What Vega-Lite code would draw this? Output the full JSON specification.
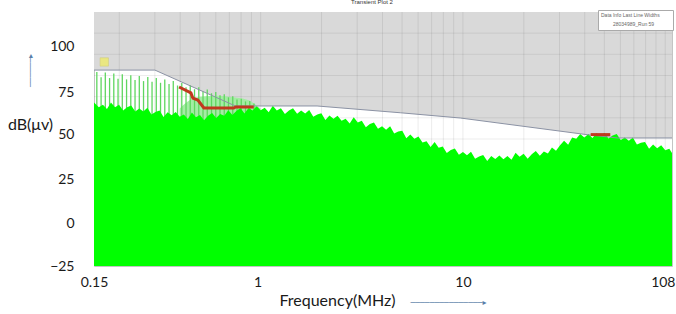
{
  "$schema": "https://vega.github.io/schema/vega-lite/v6.json",
  "autosize": "none",
  "width": 578,
  "height": 254,
  "padding": {"left": 94, "top": 12, "right": 4, "bottom": 48},
  "background": "white",
  "config": {"view": {"stroke": "#c4c4c4", "strokeWidth": 1}, "font": "Lato"},
  "title": {"text": "Transient Plot 2", "fontSize": 6, "fontWeight": "normal", "color": "#333", "offset": 5, "dx": -11, "frame": "group", "font": "Liberation Sans"},
  "datasets": {
    "limit": [
      {"f": 0.15, "v": 90.7}, {"f": 0.3, "v": 90.7}, {"f": 0.75, "v": 69.5}, {"f": 1.9, "v": 69.5},
      {"f": 4.9, "v": 65.5}, {"f": 9.7, "v": 62.4}, {"f": 42, "v": 52.4}, {"f": 58, "v": 50.6}, {"f": 108, "v": 50.6}
    ],
    "vgrid": [
      {"f": 0.2}, {"f": 0.3}, {"f": 0.4}, {"f": 0.5}, {"f": 0.6}, {"f": 0.7}, {"f": 0.8}, {"f": 0.9}, {"f": 1},
      {"f": 2}, {"f": 3}, {"f": 4}, {"f": 5}, {"f": 6}, {"f": 7}, {"f": 8}, {"f": 9}, {"f": 10},
      {"f": 20}, {"f": 30}, {"f": 40}, {"f": 50}, {"f": 60}, {"f": 70}, {"f": 80}, {"f": 90}, {"f": 100}
    ],
    "hgrid": [
      {"v": 112.5}, {"v": 100}, {"v": 87.5}, {"v": 75}, {"v": 62.5}, {"v": 50}, {"v": 37.5}, {"v": 25}, {"v": 12.5}, {"v": 0}, {"v": -12.5}
    ],
    "haze": [
      {"f": 0.398, "v": 68}, {"f": 0.447, "v": 73}, {"f": 0.5, "v": 75}, {"f": 0.6, "v": 75.5}, {"f": 0.7, "v": 75},
      {"f": 0.8, "v": 74}, {"f": 0.9, "v": 72}, {"f": 0.95, "v": 70}, {"f": 1.0, "v": 68}
    ],
    "spikes": [
      {"f": 0.1549, "v": 89.5}, {"f": 0.1626, "v": 86.5}, {"f": 0.1706, "v": 89.2}, {"f": 0.1791, "v": 86},
      {"f": 0.1879, "v": 88.7}, {"f": 0.1972, "v": 85.6}, {"f": 0.207, "v": 88.2}, {"f": 0.2173, "v": 85.2},
      {"f": 0.228, "v": 87.6}, {"f": 0.2393, "v": 84.8}, {"f": 0.2512, "v": 87.2}, {"f": 0.2636, "v": 84.2},
      {"f": 0.2767, "v": 86.6}, {"f": 0.2904, "v": 83.8}, {"f": 0.3048, "v": 86}, {"f": 0.3199, "v": 83.2},
      {"f": 0.3357, "v": 85.2}, {"f": 0.3524, "v": 82.5}, {"f": 0.3698, "v": 84.2}, {"f": 0.3882, "v": 81.6},
      {"f": 0.4074, "v": 83}, {"f": 0.4276, "v": 80.5}, {"f": 0.4487, "v": 81.8}, {"f": 0.471, "v": 79.4},
      {"f": 0.4943, "v": 80.6}, {"f": 0.5188, "v": 78.2}, {"f": 0.5445, "v": 79.2}, {"f": 0.5715, "v": 77},
      {"f": 0.5998, "v": 77.8}, {"f": 0.6295, "v": 75.8}, {"f": 0.6607, "v": 76.5}, {"f": 0.6934, "v": 74.6},
      {"f": 0.7278, "v": 75.2}, {"f": 0.7638, "v": 73.4}, {"f": 0.8017, "v": 73.8}, {"f": 0.8414, "v": 72.2},
      {"f": 0.8831, "v": 72.4}, {"f": 0.9268, "v": 71}
    ],
    "spectrum": [
      {"f": 0.15, "v": 71.5}, {"f": 0.1585, "v": 68.8}, {"f": 0.166, "v": 70.3}, {"f": 0.1738, "v": 67.7},
      {"f": 0.182, "v": 71.6}, {"f": 0.1905, "v": 68.8}, {"f": 0.1995, "v": 70.2}, {"f": 0.2089, "v": 66.8},
      {"f": 0.2188, "v": 68.7}, {"f": 0.2291, "v": 69.8}, {"f": 0.2399, "v": 66.3}, {"f": 0.2512, "v": 68.0},
      {"f": 0.263, "v": 66.2}, {"f": 0.2754, "v": 68.4}, {"f": 0.2884, "v": 64.4}, {"f": 0.302, "v": 65.9},
      {"f": 0.3162, "v": 66.8}, {"f": 0.3311, "v": 63.0}, {"f": 0.3467, "v": 65.8}, {"f": 0.3631, "v": 64.0},
      {"f": 0.3802, "v": 65.9}, {"f": 0.3981, "v": 63.1}, {"f": 0.4169, "v": 64.5}, {"f": 0.4365, "v": 61.8},
      {"f": 0.4571, "v": 65.6}, {"f": 0.4786, "v": 62.8}, {"f": 0.5012, "v": 64.1}, {"f": 0.5248, "v": 61.1},
      {"f": 0.5495, "v": 63.7}, {"f": 0.5754, "v": 65.3}, {"f": 0.6026, "v": 62.4}, {"f": 0.631, "v": 64.7},
      {"f": 0.6607, "v": 63.7}, {"f": 0.6918, "v": 67.0}, {"f": 0.7244, "v": 64.1}, {"f": 0.7586, "v": 66.5},
      {"f": 0.7943, "v": 68.3}, {"f": 0.8318, "v": 65.0}, {"f": 0.871, "v": 68.3}, {"f": 0.912, "v": 66.9},
      {"f": 0.955, "v": 69.3}, {"f": 1, "v": 67.0},
      {"f": 1.047, "v": 68.4}, {"f": 1.096, "v": 65.8}, {"f": 1.148, "v": 69.6}, {"f": 1.202, "v": 66.8},
      {"f": 1.259, "v": 68.1}, {"f": 1.318, "v": 64.7}, {"f": 1.38, "v": 66.9}, {"f": 1.445, "v": 68.2},
      {"f": 1.514, "v": 64.9}, {"f": 1.585, "v": 66.8}, {"f": 1.66, "v": 65.0}, {"f": 1.738, "v": 67.1},
      {"f": 1.82, "v": 63.1}, {"f": 1.905, "v": 64.5}, {"f": 1.995, "v": 65.2}, {"f": 2.089, "v": 61.2},
      {"f": 2.188, "v": 63.9}, {"f": 2.291, "v": 61.9}, {"f": 2.399, "v": 63.7}, {"f": 2.512, "v": 60.8},
      {"f": 2.63, "v": 62.0}, {"f": 2.754, "v": 59.2}, {"f": 2.884, "v": 62.8}, {"f": 3.02, "v": 59.8},
      {"f": 3.162, "v": 60.8}, {"f": 3.311, "v": 57.0}, {"f": 3.467, "v": 58.8}, {"f": 3.631, "v": 59.7},
      {"f": 3.802, "v": 56.0}, {"f": 3.981, "v": 57.5}, {"f": 4.169, "v": 55.5}, {"f": 4.365, "v": 57.5},
      {"f": 4.571, "v": 53.3}, {"f": 4.786, "v": 54.5}, {"f": 5.012, "v": 54.9}, {"f": 5.248, "v": 50.5},
      {"f": 5.495, "v": 52.7}, {"f": 5.754, "v": 50.2}, {"f": 6.026, "v": 51.5}, {"f": 6.31, "v": 48.0},
      {"f": 6.607, "v": 48.7}, {"f": 6.918, "v": 45.3}, {"f": 7.244, "v": 48.3}, {"f": 7.586, "v": 44.8},
      {"f": 7.943, "v": 45.5}, {"f": 8.318, "v": 41.7}, {"f": 8.71, "v": 43.5}, {"f": 9.12, "v": 44.4},
      {"f": 9.55, "v": 40.7}, {"f": 10, "v": 42.3},
      {"f": 10.47, "v": 40.4}, {"f": 10.96, "v": 42.5}, {"f": 11.48, "v": 38.3}, {"f": 12.02, "v": 39.6},
      {"f": 12.59, "v": 40.6}, {"f": 13.18, "v": 37.0}, {"f": 13.8, "v": 39.9}, {"f": 14.45, "v": 38.2},
      {"f": 15.14, "v": 40.3}, {"f": 15.85, "v": 38.0}, {"f": 16.6, "v": 39.9}, {"f": 17.38, "v": 37.7},
      {"f": 18.2, "v": 41.9}, {"f": 19.05, "v": 39.5}, {"f": 19.95, "v": 41.3}, {"f": 20.89, "v": 38.3},
      {"f": 21.88, "v": 41.0}, {"f": 22.91, "v": 42.9}, {"f": 23.99, "v": 40.1}, {"f": 25.12, "v": 42.6},
      {"f": 26.3, "v": 41.5}, {"f": 27.54, "v": 45.0}, {"f": 28.84, "v": 43.0}, {"f": 30.2, "v": 46.3},
      {"f": 31.62, "v": 48.9}, {"f": 33.11, "v": 46.6}, {"f": 34.67, "v": 50.9}, {"f": 36.31, "v": 50.2},
      {"f": 38.02, "v": 52.9}, {"f": 39.81, "v": 50.9}, {"f": 41.69, "v": 53.0}, {"f": 43.65, "v": 50.6},
      {"f": 45.71, "v": 53.4}, {"f": 47.86, "v": 52.0}, {"f": 50.12, "v": 53.5}, {"f": 52.48, "v": 50.3},
      {"f": 54.95, "v": 52.1}, {"f": 57.54, "v": 53.0}, {"f": 60.26, "v": 49.4}, {"f": 63.1, "v": 50.9},
      {"f": 66.07, "v": 48.9}, {"f": 69.18, "v": 50.9}, {"f": 72.44, "v": 46.7}, {"f": 75.86, "v": 47.8},
      {"f": 79.43, "v": 48.3}, {"f": 83.18, "v": 44.2}, {"f": 87.1, "v": 46.8}, {"f": 91.2, "v": 44.6},
      {"f": 95.5, "v": 46.3}, {"f": 100, "v": 43.3}, {"f": 104.7, "v": 44.3}, {"f": 108, "v": 41.7}
    ],
    "peaks": [
      {"f": 0.395, "v": 80.7, "s": 1}, {"f": 0.452, "v": 77.2, "s": 1}, {"f": 0.462, "v": 74.2, "s": 1},
      {"f": 0.489, "v": 73, "s": 1}, {"f": 0.524, "v": 68.3, "s": 1}, {"f": 0.736, "v": 68.3, "s": 1},
      {"f": 0.753, "v": 68.9, "s": 1}, {"f": 0.924, "v": 68.9, "s": 1},
      {"f": 42.8, "v": 52.6, "s": 2}, {"f": 53.5, "v": 52.6, "s": 2}
    ],
    "marker": [{"f": 0.1686, "v": 95.5}]
  },
  "resolve": {"axis": {"x": "independent", "y": "independent"}},
  "layer": [
    {
      "data": {"name": "limit"},
      "mark": {"type": "area", "color": "#d9d9d9", "clip": true},
      "encoding": {
        "x": {
          "field": "f", "type": "quantitative",
          "scale": {"type": "log", "domain": [0.15, 108], "nice": false},
          "axis": {
            "values": [0.15, 1, 10, 108], "format": "~g", "grid": false, "ticks": false, "domain": false,
            "labelFontSize": 14, "labelColor": "#1a1a1a", "labelPadding": 9, "labelFlush": false,
            "labelOverlap": false, "labelBound": false, "labelFont": "Lato",
            "labelAlign": {"expr": "datum.value == 108 ? 'right' : 'center'"},
            "labelOffset": {"expr": "datum.value == 108 ? 3 : datum.value == 1 ? -3 : 0"},
            "title": "Frequency(MHz)", "titleFont": "Lato", "titleFontSize": 16, "titleFontWeight": "normal",
            "titleColor": "#1a1a1a", "titleX": 243, "titleY": 34, "titleAlign": "center", "titleBaseline": "middle"
          }
        },
        "y": {
          "field": "v", "type": "quantitative",
          "scale": {"domain": [-25, 125], "nice": false, "zero": false},
          "axis": {
            "values": [100, 75, 50, 25, 0, -25], "grid": false, "ticks": false, "domain": false,
            "labelFontSize": 14, "labelColor": "#1a1a1a", "labelPadding": 20, "labelFont": "Lato",
            "labelOffset": {"expr": "datum.value == 100 ? -8 : datum.value == 75 ? -4 : datum.value == 50 ? -5 : datum.value == 25 ? -2 : 0"},
            "title": "dB(μv)", "titleAngle": 0, "titleFont": "Lato", "titleFontSize": 16, "titleFontWeight": "normal",
            "titleColor": "#1a1a1a", "titleX": -64, "titleY": 112, "titleAlign": "center", "titleBaseline": "middle"
          }
        },
        "y2": {"datum": 125}
      }
    },
    {
      "data": {"name": "vgrid"},
      "mark": {"type": "rule", "color": "#000000", "opacity": 0.08, "strokeWidth": 1},
      "encoding": {"x": {"field": "f", "type": "quantitative", "axis": null}}
    },
    {
      "data": {"name": "hgrid"},
      "mark": {"type": "rule", "color": "#000000", "opacity": 0.07, "strokeWidth": 1},
      "encoding": {"y": {"field": "v", "type": "quantitative", "axis": null}}
    },
    {
      "data": {"name": "haze"},
      "mark": {"type": "area", "color": "#a4eca4", "clip": true, "interpolate": "monotone"},
      "encoding": {
        "x": {"field": "f", "type": "quantitative", "axis": null},
        "y": {"field": "v", "type": "quantitative", "axis": null},
        "y2": {"datum": -25}
      }
    },
    {
      "data": {"name": "spikes"},
      "mark": {"type": "rule", "color": "#5fd65f", "strokeWidth": 1.3, "clip": true},
      "encoding": {
        "x": {"field": "f", "type": "quantitative", "axis": null},
        "y": {"field": "v", "type": "quantitative", "axis": null},
        "y2": {"datum": -25}
      }
    },
    {
      "data": {"name": "spectrum"},
      "mark": {"type": "area", "clip": true, "opacity": 1},
      "encoding": {
        "x": {"field": "f", "type": "quantitative", "axis": null},
        "y": {"field": "v", "type": "quantitative", "axis": null},
        "y2": {"datum": -25},
        "color": {
          "datum": "28034989_Run 59",
          "scale": {"range": ["#00ff00"]},
          "legend": {
            "orient": "none", "legendX": 504, "legendY": -2, "title": "Data Info        Last Line Widths",
            "titleFontSize": 5, "titleFont": "Liberation Sans", "titleFontWeight": "normal", "titleColor": "#666",
            "labelFontSize": 5, "labelFont": "Liberation Sans", "labelColor": "#666", "symbolType": "stroke",
            "symbolSize": 40, "symbolStrokeWidth": 1, "fillColor": "white", "strokeColor": "#aaaaaa",
            "padding": 3, "titlePadding": 2, "cornerRadius": 0
          }
        }
      }
    },
    {
      "data": {"name": "limit"},
      "mark": {"type": "line", "color": "#8b92a4", "strokeWidth": 1, "clip": true},
      "encoding": {
        "x": {
          "field": "f", "type": "quantitative",
          "axis": {
            "orient": "top", "labels": false, "ticks": false, "domain": false, "grid": false,
            "title": "───────────────▸", "titleFont": "DejaVu Sans", "titleFontSize": 8, "titleFontWeight": "normal",
            "titleColor": "#5a7fa8", "titleX": 354, "titleY": 290, "titleAlign": "center", "titleBaseline": "middle"
          }
        },
        "y": {
          "field": "v", "type": "quantitative",
          "axis": {
            "orient": "right", "labels": false, "ticks": false, "domain": false, "grid": false,
            "title": "──────▸", "titleFont": "DejaVu Sans", "titleFontSize": 8, "titleFontWeight": "normal",
            "titleAngle": 270, "titleColor": "#5a7fa8", "titleX": -642, "titleY": 58, "titleAlign": "center", "titleBaseline": "middle"
          }
        }
      }
    },
    {
      "data": {"name": "peaks"},
      "mark": {"type": "line", "color": "#c0391e", "strokeWidth": 3, "clip": true},
      "encoding": {
        "x": {"field": "f", "type": "quantitative", "axis": null},
        "y": {"field": "v", "type": "quantitative", "axis": null},
        "detail": {"field": "s"}
      }
    },
    {
      "data": {"name": "marker"},
      "mark": {"type": "point", "shape": "square", "filled": true, "color": "#f2ee5c", "size": 70, "stroke": "#c9c24a", "strokeWidth": 0.5},
      "encoding": {
        "x": {"field": "f", "type": "quantitative", "axis": null},
        "y": {"field": "v", "type": "quantitative", "axis": null}
      }
    }
  ]
}
